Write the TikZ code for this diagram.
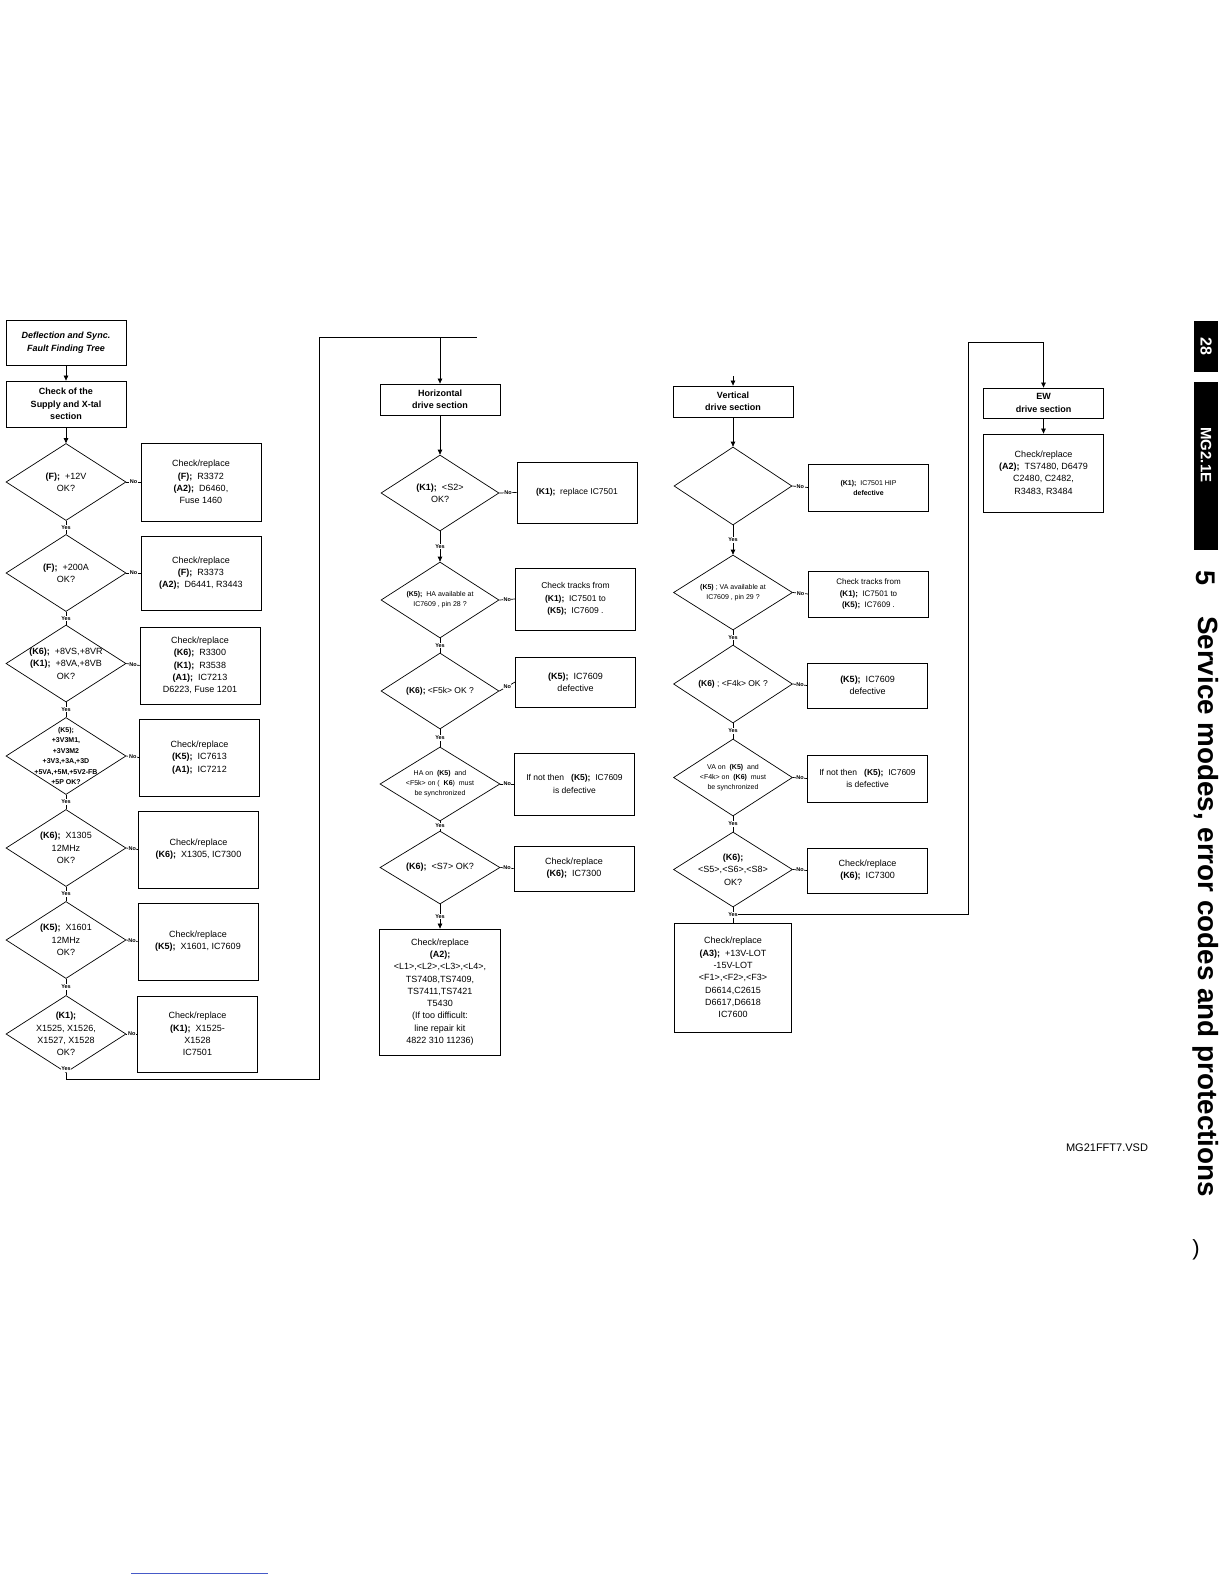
\documentclass[tikz,border=0pt]{standalone}
\usepackage{fontspec}
\setmainfont{Liberation Sans}
\usetikzlibrary{arrows.meta,shapes.geometric}
\definecolor{linkblue}{RGB}{70,90,200}
\newcommand{\pnl}[1]{\textbf{(#1);}}

\begin{document}
\begin{tikzpicture}[
  x=1pt,y=-1pt,
  line width=0.7pt,
  box/.style={draw,line width=0.8pt,align=center,minimum width=120pt,inner sep=1pt,
    font=\fontsize{9}{12.3}\selectfont},
  hbox/.style={box,font=\fontsize{9}{12.3}\selectfont\bfseries},
  dia/.style={diamond,draw,minimum width=120pt,minimum height=77pt,inner sep=0pt},
  dtxt/.style={align=center,inner sep=0pt,font=\fontsize{9}{12.3}\selectfont},
  stxt/.style={dtxt,font=\fontsize{7}{10}\selectfont},
  yn/.style={font=\fontsize{5.5}{6}\selectfont\bfseries,fill=white,inner sep=0.6pt},
  arr/.style={-{Triangle[length=5pt,width=4.5pt]}},
  side/.style={fill=black,text=white,rotate=-90,inner sep=0pt},
]
\useasboundingbox (0,0) rectangle (1224,1584);

% supply and x-tal column
\node[box,font=\fontsize{9}{12.5}\selectfont\bfseries\itshape,minimum height=45pt] (title) at (66,342.5) {Deflection and Sync.\\Fault Finding Tree};
\node[hbox,minimum height=46pt] (supply) at (66,404) {Check of the\\Supply and X-tal\\section};

\node[dia,label={[dtxt]center:\pnl{F}~~+12V\\OK?}] (d1) at (66,482) {};
\node[box,minimum height=78pt] (b1) at (201,482) {Check/replace\\\pnl{F}~~R3372\\\pnl{A2}~~D6460,\\Fuse 1460};
\node[dia,label={[dtxt]center:\pnl{F}~~+200A\\OK?}] (d2) at (66,573) {};
\node[box,minimum height=74pt] (b2) at (201,573) {Check/replace\\\pnl{F}~~R3373\\\pnl{A2}~~D6441, R3443};
\node[dia,label={[dtxt]center:\pnl{K6}~~+8VS,+8VR\\\pnl{K1}~~+8VA,+8VB\\OK?}] (d3) at (66,663.5) {};
\node[box,minimum height=77pt] (b3) at (200,665.5) {Check/replace\\\pnl{K6}~~R3300\\\pnl{K1}~~R3538\\\pnl{A1}~~IC7213\\D6223, Fuse 1201};
\node[dia,label={[stxt,font=\fontsize{7}{10.5}\selectfont\bfseries]center:(K5);\\+3V3M1,\\+3V3M2\\+3V3,+3A,+3D\\+5VA,+5M,+5V2-FB\\+5P OK?}] (d4) at (66,756) {};
\node[box,minimum height=77pt] (b4) at (199.5,757.5) {Check/replace\\\pnl{K5}~~IC7613\\\pnl{A1}~~IC7212};
\node[dia,label={[dtxt]center:\pnl{K6}~~X1305\\12MHz\\OK?}] (d5) at (66,848) {};
\node[box,minimum height=77pt] (b5) at (198.5,849.5) {Check/replace\\\pnl{K6}~~X1305, IC7300};
\node[dia,label={[dtxt]center:\pnl{K5}~~X1601\\12MHz\\OK?}] (d6) at (66,940) {};
\node[box,minimum height=77pt] (b6) at (198,941.5) {Check/replace\\\pnl{K5}~~X1601, IC7609};
\node[dia,label={[dtxt]center:\textbf{(K1);}\\X1525, X1526,\\X1527, X1528\\OK?}] (d7) at (66,1034) {};
\node[box,minimum height=76pt] (b7) at (197.5,1034) {Check/replace\\\pnl{K1}~~X1525-\\X1528\\IC7501};

\draw[arr] (title) -- (supply);
\draw[arr] (supply) -- (d1);
\foreach \a/\b in {d1/d2,d2/d3,d3/d4,d4/d5,d5/d6,d6/d7}
  \draw (\a.south) -- node[yn]{Yes} (\b.north);
\foreach \a/\b in {d1/b1,d2/b2,d3/b3,d4/b4,d5/b5,d6/b6,d7/b7}
  \draw (\a.east) -- node[yn]{No} (\b.west);

% horizontal drive column
\node[hbox,minimum height=31pt] (hor) at (440,399.5) {Horizontal\\drive section};
\node[dia,minimum width=118pt,minimum height=76pt,label={[dtxt]center:\pnl{K1}~~<S2>\\OK?}] (h1) at (440,493) {};
\node[box,minimum height=61pt,font=\fontsize{8.5}{12}\selectfont] (hb1) at (577,492.5) {\pnl{K1}~~replace IC7501};
\node[dia,minimum width=118pt,minimum height=76pt,label={[stxt]center:\pnl{K5}~~HA available at\\IC7609 , pin 28 ?}] (h2) at (440,600) {};
\node[box,minimum height=62pt,font=\fontsize{8.5}{12.3}\selectfont] (hb2) at (575.5,599) {Check tracks from\\\pnl{K1}~~IC7501 to\\\pnl{K5}~~IC7609 .};
\node[dia,minimum width=118pt,minimum height=76pt,label={[dtxt,font=\fontsize{8.5}{12}\selectfont]center:\pnl{K6}~<F5k> OK ?}] (h3) at (440,691) {};
\node[box,minimum height=50pt] (hb3) at (575.5,682) {\pnl{K5}~~IC7609\\defective};
\node[dia,minimum height=74pt,label={[stxt]center:HA on~~\textbf{(K5)}~~and\\<F5k> on (~~\textbf{K6})~~must\\be synchronized}] (h4) at (440,784) {};
\node[box,minimum height=62pt,font=\fontsize{8.5}{12.3}\selectfont] (hb4) at (574.5,784) {If not then~~~\pnl{K5}~~IC7609\\is defective};
\node[dia,minimum height=73pt,label={[dtxt]center:\pnl{K6}~~<S7> OK?}] (h5) at (440,867.5) {};
\node[box,minimum height=45pt] (hb5) at (574,868.5) {Check/replace\\\pnl{K6}~~IC7300};
\node[box,minimum width=121pt,minimum height=126pt] (hfin) at (440,992) {Check/replace\\\textbf{(A2);}\\<L1>,<L2>,<L3>,<L4>,\\TS7408,TS7409,\\TS7411,TS7421\\T5430\\(If too difficult:\\line repair kit\\4822 310 11236)};

\coordinate (lbot) at (319,1079);
\coordinate (ltop) at (319,337);
\draw[arr] (d7.south) |- (lbot) -- (ltop) -| (hor.north);
\draw (hor.north |- ltop) -- ++(37,0);
\node[yn] (y7) at (66,1069) {Yes};

\draw[arr] (hor) -- (h1);
\draw[arr] (h1) -- node[yn]{Yes} (h2);
\draw (h2) -- node[yn]{Yes} (h3);
\draw (h3) -- node[yn]{Yes} (h4);
\draw (h4) -- node[yn]{Yes} (h5);
\draw[arr] (h5) -- node[yn]{Yes} (hfin);
\foreach \a/\b in {h1/hb1,h2/hb2,h3/hb3,h4/hb4,h5/hb5}
  \draw (\a.east) -- node[yn]{No} (\b.west);

% vertical drive column
\node[hbox,minimum height=31pt] (vert) at (733,401.5) {Vertical\\drive section};
\coordinate (vin) at (733,376);
\node[dia,minimum width=118pt,minimum height=78pt] (v1) at (733,486) {};
\node[box,minimum height=47pt,font=\fontsize{7}{10}\selectfont] (vb1) at (868.5,487.5) {\pnl{K1}~~IC7501 HIP\\\textbf{defective}};
\node[dia,minimum width=119pt,minimum height=75pt,label={[stxt]center:\textbf{(K5)}~;~VA available at\\IC7609 , pin 29 ?}] (v2) at (733,592.5) {};
\node[box,minimum height=46pt,font=\fontsize{8}{11.5}\selectfont] (vb2) at (868.5,594) {Check tracks from\\\pnl{K1}~~IC7501 to\\\pnl{K5}~~IC7609 .};
\node[dia,minimum width=119pt,minimum height=78pt,label={[dtxt,font=\fontsize{8.5}{12}\selectfont]center:\textbf{(K6)}~;~<F4k> OK ?}] (v3) at (733,684) {};
\node[box,minimum height=45pt] (vb3) at (867.5,685.5) {\pnl{K5}~~IC7609\\defective};
\node[dia,minimum width=119pt,minimum height=77pt,label={[stxt]center:VA on~~\textbf{(K5)}~~and\\<F4k> on~~\textbf{(K6)}~~must\\be synchronized}] (v4) at (733,777.5) {};
\node[box,minimum height=47pt,font=\fontsize{8.5}{12.3}\selectfont] (vb4) at (867.5,778.5) {If not then~~~\pnl{K5}~~IC7609\\is defective};
\node[dia,minimum width=119pt,minimum height=75pt,label={[dtxt]center:\textbf{(K6);}\\<S5>,<S6>,<S8>\\OK?}] (v5) at (733,869.5) {};
\node[box,minimum height=45pt] (vb5) at (867.5,870.5) {Check/replace\\\pnl{K6}~~IC7300};
\node[box,minimum width=117pt,minimum height=109pt] (vfin) at (733,977.5) {Check/replace\\\pnl{A3}~~+13V-LOT\\-15V-LOT\\<F1>,<F2>,<F3>\\D6614,C2615\\D6617,D6618\\IC7600};

% EW drive column
\node[hbox,minimum height=30pt] (ew) at (1043.5,403) {EW\\drive section};
\node[box,minimum height=78pt] (ewb) at (1043.5,473) {Check/replace\\\pnl{A2}~~TS7480, D6479\\C2480, C2482,\\R3483, R3484};
\coordinate (ewlow) at (968,914);
\coordinate (ewtop) at (968,342);
\draw[arr] (v5.south |- ewlow) -- (ewlow) -- (ewtop) -| (ew.north);
\draw[arr] (ew) -- (ewb);

\draw[arr] (vin) -- (vert);
\draw[arr] (vert) -- (v1);
\draw[arr] (v1) -- node[yn]{Yes} (v2);
\draw (v2) -- node[yn]{Yes} (v3);
\draw (v3) -- node[yn]{Yes} (v4);
\draw (v4) -- node[yn]{Yes} (v5);
\draw (v5) -- node[yn]{Yes} (vfin);
\foreach \a/\b in {v1/vb1,v2/vb2,v3/vb3,v4/vb4,v5/vb5}
  \draw (\a.east) -- node[yn]{No} (\b.west);

% page margin
\node[side,minimum width=51pt,minimum height=24pt,font=\fontsize{16}{16}\selectfont\bfseries] (pg) at (1206,346.5) {28};
\node[side,minimum width=168pt,minimum height=24pt] (modelbox) at (1206,466) {};
\node[rotate=-90,text=white,inner sep=0pt,font=\fontsize{15}{15}\selectfont\bfseries] (model) at (1206,455) {MG2.1E};
\node[rotate=-90,font=\fontsize{27}{27}\selectfont\bfseries,inner sep=0pt] (chap) at (1206,578) {5};
\node[rotate=-90,font=\fontsize{27.8}{28}\selectfont\bfseries,inner sep=0pt] (chaptitle) at (1206,906.5) {Service modes, error codes and protections};
\node[font=\fontsize{11}{11}\selectfont] (fname) at (1107,1148) {MG21FFT7.VSD};
\node[font=\fontsize{22}{22}\selectfont] (paren) at (1196,1250) {)};
\draw[linkblue,line width=0.6pt] (131,1573) -- (268,1573);
\end{tikzpicture}
\end{document}
